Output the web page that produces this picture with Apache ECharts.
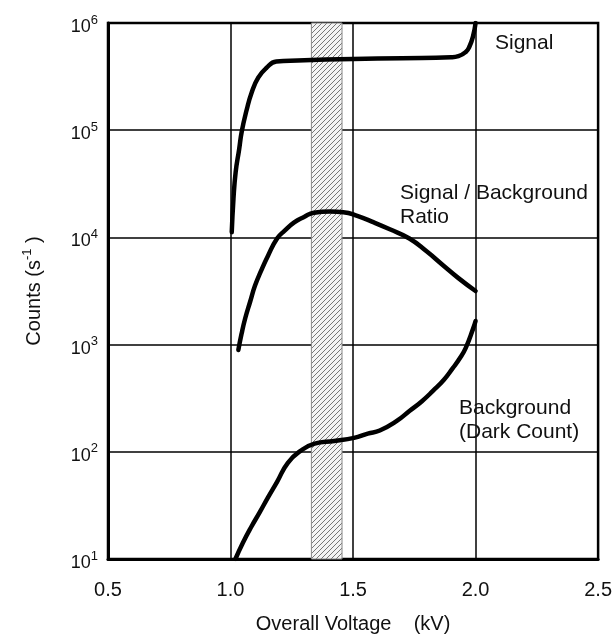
<!DOCTYPE html>
<html>
<head>
<meta charset="utf-8">
<script src="https://cdn.jsdelivr.net/npm/echarts@6/dist/echarts.min.js"></script>
<style>
html,body{margin:0;padding:0;background:#fff;}
#container{width:615px;height:639px;}
</style>
</head>
<body>
<div id="container"></div>
<script>
// 曲线数据 (kV, counts/s)
var sigV = [1.005, 1.012, 1.021, 1.035, 1.046, 1.066, 1.086, 1.113, 1.146, 1.187, 1.274, 1.5, 1.7, 1.9, 1.93, 1.96, 1.975, 1.99, 2.0];
var sigC = [11200, 22900, 40700, 66000, 97700, 155000, 224000, 309000, 380000, 437000, 447000, 462000, 470000, 479000, 490000, 537000, 603000, 759000, 1000000];

var ratioV = [1.032, 1.045, 1.06, 1.08, 1.10, 1.125, 1.153, 1.19, 1.22, 1.26, 1.30, 1.34, 1.407, 1.46, 1.52, 1.585, 1.65, 1.73, 1.80, 1.867, 1.93, 2.0];
var ratioC = [891, 1260, 1760, 2510, 3550, 4900, 6760, 9770, 11500, 13800, 15500, 17000, 17400, 17200, 15800, 13800, 11900, 9770, 7410, 5500, 4170, 3160];

var bgV = [1.02, 1.05, 1.085, 1.12, 1.153, 1.19, 1.234, 1.286, 1.343, 1.423, 1.504, 1.56, 1.609, 1.68, 1.73, 1.78, 1.827, 1.87, 1.907, 1.935, 1.96, 1.99, 2.0];
var bgC = [10, 14.1, 20, 27.5, 37.6, 52.5, 79, 102, 119, 126, 135, 148, 158, 195, 240, 295, 372, 468, 603, 741, 933, 1410, 1660];

// 阴影区间 (kV)
var bandRange = [1.33, 1.455];

var curveLabels = [
	{text: 'Signal', x: 495, y: 31},
	{text: 'Signal / Background\nRatio', x: 400, y: 181},
	{text: 'Background\n(Dark Count)', x: 459, y: 396}
];

function zip(xs, ys) {
	var out = [];
	for (var i = 0; i < xs.length; i++) out.push([xs[i], ys[i]]);
	return out;
}

function hatchPattern() {
	var c = document.createElement('canvas');
	c.width = 5; c.height = 5;
	var ctx = c.getContext('2d');
	ctx.fillStyle = '#f4f4f4';
	ctx.fillRect(0, 0, 5, 5);
	ctx.strokeStyle = '#777';
	ctx.lineWidth = 1;
	ctx.beginPath();
	ctx.moveTo(0, 5); ctx.lineTo(5, 0);
	ctx.moveTo(-1, 1); ctx.lineTo(1, -1);
	ctx.moveTo(4, 6); ctx.lineTo(6, 4);
	ctx.stroke();
	return c;
}

function lineSeries(name, xs, ys) {
	return {
		name: name,
		type: 'line',
		data: zip(xs, ys),
		smooth: 0.5,
		showSymbol: false,
		lineStyle: {color: '#000', width: 4.5, join: 'round', cap: 'round'},
		z: 5
	};
}

var font = 'Liberation Sans, Arial, sans-serif';

var series = [
	lineSeries('Signal', sigV, sigC),
	lineSeries('Ratio', ratioV, ratioC),
	lineSeries('Background', bgV, bgC)
];
series[0].markArea = {
	silent: true,
	itemStyle: {
		color: {image: hatchPattern(), repeat: 'repeat'},
		borderColor: '#888',
		borderWidth: 1
	},
	data: [[{xAxis: bandRange[0]}, {xAxis: bandRange[1]}]]
};

var option = {
	animation: false,
	backgroundColor: '#fff',
	grid: {
		left: 108, right: 11, top: 23, bottom: 79,
		show: true,
		borderColor: '#000',
		borderWidth: 2.5
	},
	xAxis: {
		type: 'value',
		min: 0.5, max: 2.5, interval: 0.5,
		name: 'Overall Voltage    (kV)',
		nameLocation: 'middle',
		nameGap: 55,
		nameTextStyle: {fontFamily: font, fontSize: 20, color: '#111', verticalAlign: 'top'},
		axisLine: {show: true, lineStyle: {color: '#000', width: 3}},
		axisTick: {show: false},
		axisLabel: {
			margin: 21,
			fontFamily: font, fontSize: 20, color: '#111',
			formatter: function (v) { return v.toFixed(1); }
		},
		splitLine: {show: true, lineStyle: {color: '#000', width: 1.5}}
	},
	yAxis: {
		type: 'log',
		logBase: 10,
		min: 10, max: 1000000,
		name: '{n|Counts (s}{s|-1}{n| )}',
		nameLocation: 'middle',
		nameRotate: 90,
		nameGap: 60,
		nameTextStyle: {
			rich: {
				n: {fontFamily: font, fontSize: 20, color: '#111'},
				s: {fontFamily: font, fontSize: 13, color: '#111', padding: [0, 0, 14, 0]}
			}
		},
		axisLine: {show: true, lineStyle: {color: '#000', width: 3}},
		axisTick: {show: false},
		axisLabel: {
			margin: 10,
			formatter: function (v) {
				var e = Math.round(Math.log(v) / Math.LN10);
				return '{b|10}{s|' + e + '}';
			},
			rich: {
				b: {fontFamily: font, fontSize: 18, color: '#111', padding: [8, 0, 0, 0]},
				s: {fontFamily: font, fontSize: 13, color: '#111', padding: [0, 0, 6, 0]}
			}
		},
		splitLine: {show: true, lineStyle: {color: '#000', width: 1.5}}
	},
	graphic: curveLabels.map(function (l) {
		return {
			type: 'text',
			left: l.x, top: l.y,
			z: 10,
			style: {text: l.text, font: '21px ' + font, fill: '#111', lineHeight: 24}
		};
	}),
	series: series
};

var myChart = echarts.init(document.getElementById('container'));
myChart.setOption(option);
</script>
</body>
</html>
